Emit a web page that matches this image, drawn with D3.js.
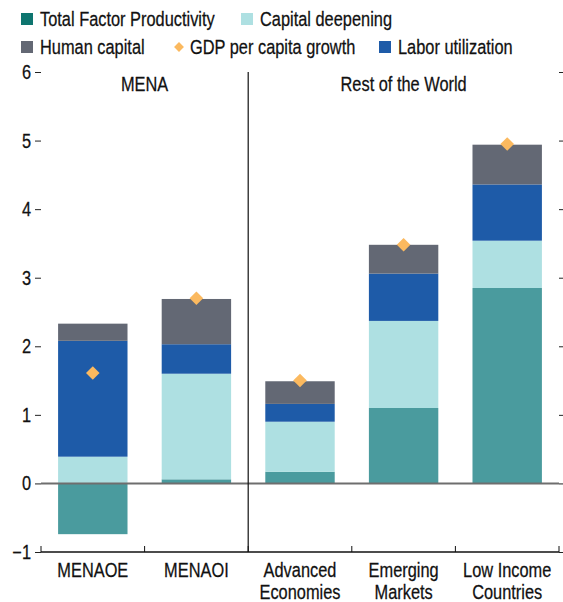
<!DOCTYPE html>
<html lang="en">
<head>
<meta charset="UTF-8">
<script src="https://d3js.org/d3.v7.min.js"></script>
<style>
  body { margin: 0; background: #fff; }
  text { font-family: "Liberation Sans", Arial, sans-serif; fill: #111; stroke: #111; stroke-width: 0.25px; }
</style>
</head>
<body>
<div id="chart"></div>
<script>
// categories and groups
var categories = ["MENAOE", "MENAOI", "Advanced Economies", "Emerging Markets", "Low Income Countries"];
var catLines = [["MENAOE"], ["MENAOI"], ["Advanced", "Economies"], ["Emerging", "Markets"], ["Low Income", "Countries"]];
var groups = [{name: "MENA", from: 0, to: 1}, {name: "Rest of the World", from: 2, to: 4}];

// series values (percent)
var tfp      = [-0.74, 0.06, 0.17, 1.10, 2.85];
var capital  = [0.39, 1.54, 0.73, 1.27, 0.69];
var labor    = [1.69, 0.43, 0.26, 0.69, 0.82];
var human    = [0.25, 0.66, 0.33, 0.42, 0.58];
var gdp      = [1.61, 2.70, 1.50, 3.48, 4.95];

var yTicks = [-1, 0, 1, 2, 3, 4, 5, 6];

var series = [
  {key: "tfp", values: tfp, color: "#4a9b9e"},
  {key: "capital", values: capital, color: "#aee0e2"},
  {key: "labor", values: labor, color: "#1e5ba8"},
  {key: "human", values: human, color: "#636874"}
];

var width = 563, height = 602;
var margin = {left: 41, right: 4, top: 72, bottom: 50};
var SX = 0.84; // narrow font look

var svg = d3.select("#chart").append("svg").attr("width", width).attr("height", height);

// text placed at (px,py) and squeezed horizontally
function narrowText(parent, px, py, str, anchor) {
  return parent.append("text")
    .attr("transform", "translate(" + px + "," + py + ") scale(" + SX + ",1)")
    .attr("text-anchor", anchor || "start")
    .style("font-size", "19.5px")
    .text(str);
}

var x = d3.scaleBand().domain(categories).range([margin.left, width - margin.right]).paddingInner(0.33).paddingOuter(0.165);
var xEdge = d3.scaleBand().domain(categories).range([margin.left, width - margin.right]);
var y = d3.scaleLinear().domain([-1, 6]).range([height - margin.bottom, margin.top]);

// left ticks
var yl = svg.append("g").attr("transform", "translate(" + margin.left + ",0)")
  .call(d3.axisLeft(y).tickValues(yTicks).tickSize(6).tickFormat(""));
yl.select(".domain").remove();
yl.selectAll("line").attr("stroke", "#222");
yTicks.forEach(function(t){
  narrowText(svg, margin.left - 10, y(t) + 7, t < 0 ? "\u2212" + (-t) : String(t), "end");
});

// right ticks
var yr = svg.append("g").attr("transform", "translate(" + (width - margin.right) + ",0)")
  .call(d3.axisRight(y).tickValues(yTicks).tickSize(4).tickFormat(""));
yr.select(".domain").remove();
yr.selectAll("line").attr("stroke", "#222");

// stacked bars
var stacks = categories.map(function(c, i){
  var pos = 0, neg = 0, segs = [];
  series.forEach(function(s){
    var v = s.values[i];
    if (v >= 0) { segs.push({c: c, y0: pos, y1: pos + v, color: s.color}); pos += v; }
    else { segs.push({c: c, y0: neg + v, y1: neg, color: s.color}); neg += v; }
  });
  return segs;
});

svg.append("g").selectAll("rect")
  .data(stacks.flat())
  .join("rect")
  .attr("x", function(d){ return x(d.c); })
  .attr("width", x.bandwidth())
  .attr("y", function(d){ return y(d.y1); })
  .attr("height", function(d){ return y(d.y0) - y(d.y1); })
  .attr("fill", function(d){ return d.color; });

// zero line
svg.append("line")
  .attr("x1", margin.left).attr("x2", width - margin.right)
  .attr("y1", y(0)).attr("y2", y(0))
  .attr("stroke", "#6e6e6e").attr("stroke-width", 2);

// gdp diamonds
svg.append("g").selectAll("path")
  .data(gdp)
  .join("path")
  .attr("d", d3.symbol().type(d3.symbolDiamond2).size(118))
  .attr("transform", function(d, i){ return "translate(" + (x(categories[i]) + x.bandwidth()/2) + "," + y(d) + ")"; })
  .attr("fill", "#fbb95f");

// bottom axis
var xb = svg.append("g").attr("transform", "translate(0," + y(-1) + ")");
xb.append("line").attr("x1", margin.left).attr("x2", width - margin.right).attr("stroke", "#111").attr("stroke-width", 1.5);
xb.selectAll(".tk")
  .data(categories.map(function(c){ return xEdge(c); }).concat([width - margin.right]))
  .join("line")
  .attr("x1", function(d){ return d; }).attr("x2", function(d){ return d; })
  .attr("y1", 0).attr("y2", -6).attr("stroke", "#111");

// category labels
categories.forEach(function(c, i){
  catLines[i].forEach(function(l, j){
    narrowText(svg, x(c) + x.bandwidth()/2, 577 + j * 22, l, "middle");
  });
});

// group divider and titles
svg.append("line")
  .attr("x1", xEdge(categories[2])).attr("x2", xEdge(categories[2]))
  .attr("y1", y(6)).attr("y2", y(-1))
  .attr("stroke", "#111").attr("stroke-width", 1.2);

groups.forEach(function(g){
  var cx = (xEdge(categories[g.from]) + xEdge(categories[g.to]) + xEdge.bandwidth()) / 2;
  narrowText(svg, cx, 91, g.name, "middle");
});

// legend
var legend = [
  {label: "Total Factor Productivity", color: "#0e756f", type: "rect", x: 21, row: 0},
  {label: "Capital deepening", color: "#aee0e2", type: "rect", x: 241, row: 0},
  {label: "Human capital", color: "#636874", type: "rect", x: 21, row: 1},
  {label: "GDP per capita growth", color: "#fbb95f", type: "diamond", x: 172, row: 1},
  {label: "Labor utilization", color: "#1e5ba8", type: "rect", x: 379, row: 1}
];
legend.forEach(function(d){
  var gy = 19 + d.row * 28;
  if (d.type === "rect") {
    svg.append("rect").attr("x", d.x).attr("y", gy - 6).attr("width", 12).attr("height", 12).attr("fill", d.color);
    narrowText(svg, d.x + 19, gy + 7, d.label);
  } else {
    svg.append("path")
      .attr("d", d3.symbol().type(d3.symbolDiamond2).size(62))
      .attr("transform", "translate(" + (d.x + 7) + "," + gy + ")")
      .attr("fill", d.color);
    narrowText(svg, d.x + 18, gy + 7, d.label);
  }
});
</script>
</body>
</html>
